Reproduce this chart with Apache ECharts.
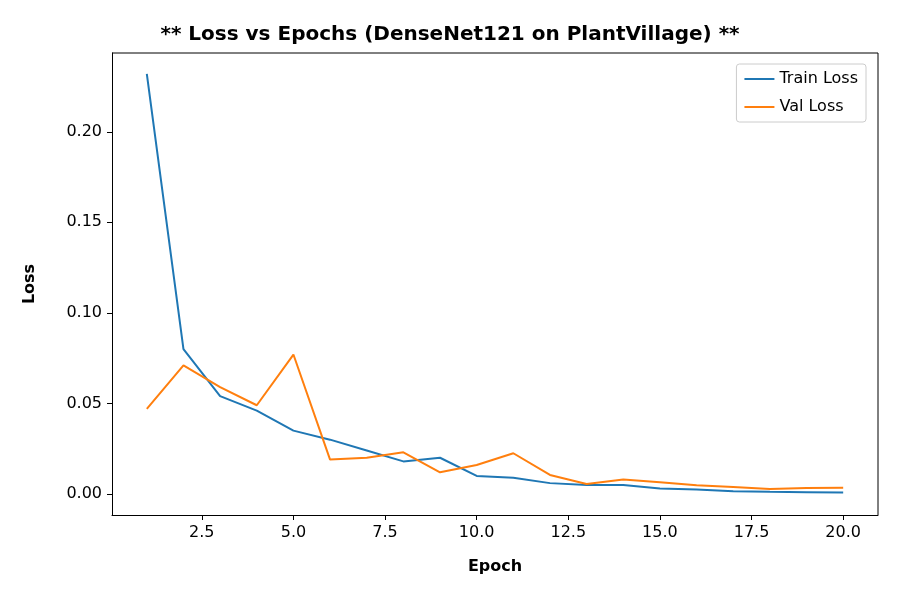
<!DOCTYPE html>
<html><head><meta charset="utf-8">
<script src="https://cdn.jsdelivr.net/npm/echarts@6/dist/echarts.min.js"></script>
<style>html,body{margin:0;padding:0;background:#fff}#c{width:900px;height:600px}</style>
</head><body><div id="c"></div>
<script>
var epochs = [1,2,3,4,5,6,7,8,9,10,11,12,13,14,15,16,17,18,19,20];
var trainLoss = [0.232,0.080,0.054,0.046,0.035,0.030,0.024,0.018,0.020,0.010,0.009,0.006,0.005,0.005,0.003,0.0025,0.0015,0.0012,0.001,0.0008];
var valLoss = [0.047,0.071,0.059,0.049,0.077,0.019,0.020,0.023,0.012,0.016,0.0225,0.0105,0.0055,0.008,0.0065,0.0048,0.0038,0.0028,0.0033,0.0034];
var xTicks = [2.5,5,7.5,10,12.5,15,17.5,20];
var yTicks = [0,0.05,0.1,0.15,0.2];

function pairs(v) { return epochs.map(function (e, i) { return [e, v[i]]; }); }

var font = "DejaVu Sans";
var chart = echarts.init(document.getElementById("c"));
chart.setOption({
  animation: false,
  textStyle: { fontFamily: font },
  title: {
    text: "** Loss vs Epochs (DenseNet121 on PlantVillage) **",
    left: "center", top: 20,
    textStyle: { fontSize: 20, fontWeight: "bold", color: "#000", fontFamily: font }
  },
  grid: { left: 112, right: 22, top: 53, bottom: 85 },
  legend: {
    right: 34, top: 64, orient: "vertical",
    borderColor: "#ccc", borderWidth: 1, borderRadius: 3, padding: [7, 8],
    itemWidth: 30, itemHeight: 2, itemGap: 12,
    icon: "rect",
    textStyle: { fontSize: 16, color: "#000", fontFamily: font },
    data: ["Train Loss", "Val Loss"]
  },
  xAxis: {
    type: "value", min: 0.05, max: 20.95,
    name: "Epoch", nameLocation: "middle", nameGap: 44,
    nameTextStyle: { fontSize: 16, fontWeight: "bold", color: "#000" },
    axisLine: { show: true, onZero: false, lineStyle: { color: "#000" } },
    axisTick: { show: true, customValues: xTicks, lineStyle: { color: "#000" } },
    axisLabel: { customValues: xTicks, fontSize: 16, color: "#000", margin: 10, formatter: function (v) { return v.toFixed(1); } },
    splitLine: { show: false }
  },
  yAxis: {
    type: "value", min: -0.0116, max: 0.2435,
    name: "Loss", nameLocation: "middle", nameGap: 74,
    nameTextStyle: { fontSize: 16, fontWeight: "bold", color: "#000" },
    axisLine: { show: true, onZero: false, lineStyle: { color: "#000" } },
    axisTick: { show: true, customValues: yTicks, lineStyle: { color: "#000" } },
    axisLabel: { customValues: yTicks, fontSize: 16, color: "#000", margin: 10, formatter: function (v) { return v.toFixed(2); } },
    splitLine: { show: false }
  },
  series: [
    { name: "Train Loss", type: "line", data: pairs(trainLoss), showSymbol: false, color: "#1f77b4", lineStyle: { width: 2 } },
    { name: "Val Loss", type: "line", data: pairs(valLoss), showSymbol: false, color: "#ff7f0e", lineStyle: { width: 2 } }
  ],
  graphic: [
    { type: "line", shape: { x1: 112, y1: 53, x2: 878, y2: 53 }, style: { stroke: "#000", lineWidth: 1 } },
    { type: "line", shape: { x1: 878, y1: 53, x2: 878, y2: 515 }, style: { stroke: "#000", lineWidth: 1 } }
  ]
});
</script></body></html>
